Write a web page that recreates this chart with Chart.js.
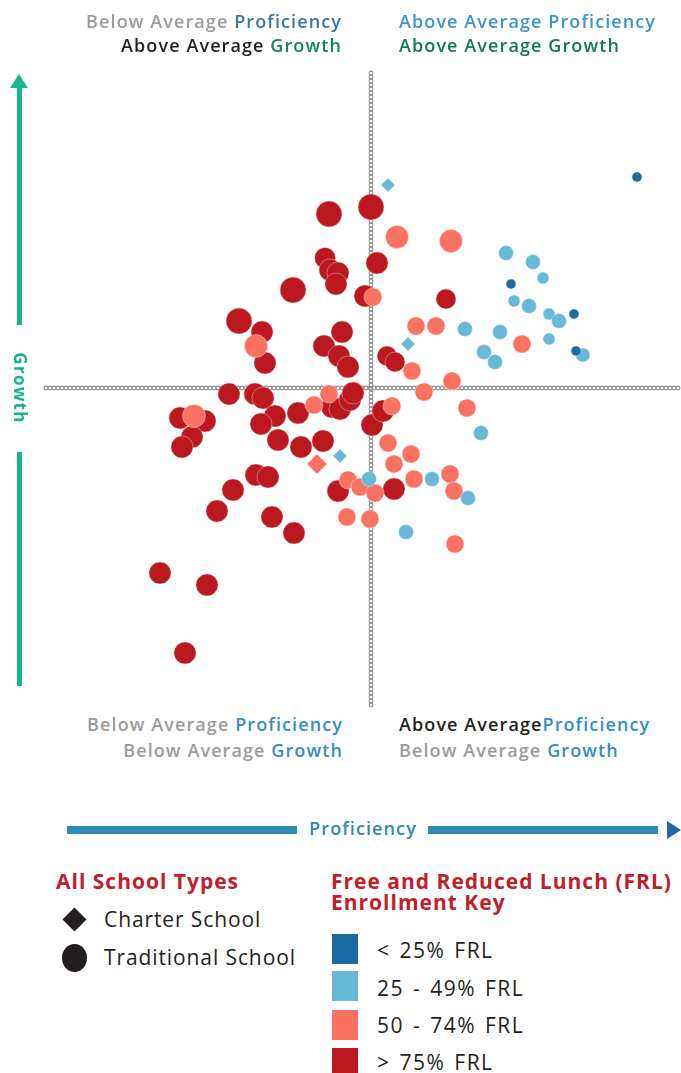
<!DOCTYPE html>
<html>
<head>
<meta charset="utf-8">
<script src="https://cdn.jsdelivr.net/npm/chart.js@4/dist/chart.umd.min.js"></script>
<style>
  body { margin: 0; width: 681px; height: 1073px; position: relative; background: #fff; font-family: 'Open Sans', sans-serif; overflow: hidden; }
  #chart { position: absolute; left: 0; top: 0; }
  .abs { position: absolute; white-space: nowrap; }
  .quad { font-size: 18px; line-height: 24px; font-weight: 600; letter-spacing: 1.1px; }
  .gray { color: #9b9b9b; }
  .blk { color: #231f20; }
  .legend-title { font-size: 21px; font-weight: 700; color: #c0202a; line-height: 21px; letter-spacing: 1px; }
  .legend-item { font-size: 21px; color: #231f20; line-height: 24px; letter-spacing: 0.9px; }
  .frl { letter-spacing: 1.5px; word-spacing: 2px; }
  .sq { position: absolute; width: 26px; height: 30px; }
</style>
</head>
<body>
<canvas id="chart" width="681" height="710"></canvas>

<div class="abs quad" style="right:339px; top:9px; text-align:right;">
  <span class="gray">Below Average</span> <span style="color:#3a77a8">Proficiency</span><br>
  <span class="blk">Above Average</span> <span style="color:#14855a">Growth</span>
</div>
<div class="abs quad" style="left:399px; top:9px;">
  <span style="color:#3a96c8">Above Average Proficiency</span><br>
  <span style="color:#0f7a55">Above Average Growth</span>
</div>
<div class="abs quad" style="right:338px; top:711px; text-align:right; line-height:26px;">
  <span class="gray">Below Average</span> <span style="color:#3290c2">Proficiency</span><br>
  <span class="gray">Below Average</span> <span style="color:#3290c2">Growth</span>
</div>
<div class="abs quad" style="left:399px; top:711px; line-height:26px;">
  <span class="blk">Above Average</span><span style="color:#3290c2">Proficiency</span><br>
  <span class="gray">Below Average</span> <span style="color:#3290c2">Growth</span>
</div>

<!-- growth arrow -->
<div class="abs" style="left:10px; top:74px; width:0; height:0; border-left:9px solid transparent; border-right:9px solid transparent; border-bottom:14px solid #17b890;"></div>
<div class="abs" style="left:17px; top:87px; width:5px; height:238px; background:#17b890;"></div>
<div class="abs" style="left:20px; top:388px; transform:translate(-50%,-50%) rotate(90deg); font-size:17px; font-weight:700; color:#17b48f; letter-spacing:1.3px;">Growth</div>
<div class="abs" style="left:17px; top:452px; width:5px; height:234px; background:#17b890;"></div>

<!-- proficiency arrow -->
<div class="abs" style="left:67px; top:826px; width:230px; height:8px; background:#2e8ab8;"></div>
<div class="abs" style="left:363px; top:828px; transform:translate(-50%,-50%); font-size:18px; font-weight:600; color:#2f8ab8; letter-spacing:1.1px;">Proficiency</div>
<div class="abs" style="left:428px; top:826px; width:230px; height:8px; background:#2e8ab8;"></div>
<div class="abs" style="left:667px; top:821px; width:0; height:0; border-top:9px solid transparent; border-bottom:9px solid transparent; border-left:14px solid #1f6aa0;"></div>

<!-- legend: school types -->
<div class="abs legend-title" style="left:56px; top:871px;">All School Types</div>
<div class="abs" style="left:66px; top:911px; width:17px; height:17px; background:#231f20; transform:rotate(45deg);"></div>
<div class="abs legend-item" style="left:104px; top:907px;">Charter School</div>
<div class="abs" style="left:62px; top:944px; width:25px; height:28px; border-radius:50%; background:#231f20;"></div>
<div class="abs legend-item" style="left:104px; top:945px;">Traditional School</div>

<!-- legend: FRL -->
<div class="abs legend-title" style="left:331px; top:871px;">Free and Reduced Lunch (FRL)<br>Enrollment Key</div>
<div class="sq" style="left:332px; top:934px; background:#1c6aa3;"></div>
<div class="abs legend-item frl" style="left:377px; top:938px;">&lt; 25% FRL</div>
<div class="sq" style="left:332px; top:971px; background:#68b9d9;"></div>
<div class="abs legend-item frl" style="left:377px; top:976px;">25 - 49% FRL</div>
<div class="sq" style="left:332px; top:1010px; background:#fb7262;"></div>
<div class="abs legend-item frl" style="left:377px; top:1013px;">50 - 74% FRL</div>
<div class="sq" style="left:332px; top:1048px; background:#bb1820;"></div>
<div class="abs legend-item frl" style="left:377px; top:1050px;">&gt; 75% FRL</div>

<script>
// Proficiency (x) and Growth (y), relative to the state average (0,0)
// enrollment drives the marker size, type: T = traditional, C = charter

// > 75% FRL
const redX = [-4.2, 0.0, 0.6, -4.6, -4.1, -3.3, -3.5, -7.8, -0.6, -13.2, -10.9, -10.6, -2.9, -4.7, -3.2, -2.3, 1.6, 2.4, 7.5,
  -14.2, -11.6, -10.8, -9.6, -11.0, -7.3, -19.1, -16.6, -17.9, -18.9, -3.9, -3.1, -2.1, -1.8, -9.3, -7.0, -4.8, 0.1, 1.2,
  -11.5, -10.3, -13.8, -15.4, -9.9, -7.7, -3.3, 2.3, -21.1, -16.4, -18.6];
const redY = [17.4, 18.1, 12.5, 13.0, 11.8, 11.5, 10.4, 9.8, 9.2, 6.7, 5.6, 2.5, 5.6, 4.2, 3.2, 2.1, 3.2, 2.6, 8.9,
  -0.6, -0.6, -1.0, -2.8, -3.6, -2.5, -3.0, -3.3, -4.9, -5.9, -1.9, -2.1, -1.2, -0.5, -5.2, -5.9, -5.3, -3.7, -2.3,
  -8.7, -8.9, -10.2, -12.3, -12.9, -14.5, -10.3, -10.1, -18.5, -19.7, -26.5];
const redEnr = [1050, 1050, 760, 690, 760, 760, 760, 1050, 760, 1050, 760, 760, 760, 760, 760, 760, 625, 625, 625,
  760, 760, 760, 760, 760, 760, 760, 760, 760, 760, 760, 760, 760, 760, 760, 760, 760, 760, 760,
  760, 760, 760, 760, 760, 760, 760, 760, 760, 760, 760];
const redType = redX.map(() => 'T');

// 50 - 74% FRL
const salmonX = [2.6, 8.0, 0.2, -11.5, 4.5, 6.5, 4.1, 15.1, 8.1, 5.3, 9.6, -17.7, -5.7, -4.2, 2.1, 1.7, 4.0, 2.3, 4.3,
  7.9, 8.3, 8.4, -2.3, -1.1, 0.4, -2.4, -0.1, -5.4];
const salmonY = [15.1, 14.7, 9.1, 4.2, 6.2, 6.2, 1.7, 4.4, 0.7, -0.4, -2.0, -2.8, -1.7, -0.6, -1.8, -5.5, -6.6, -7.6, -9.1,
  -8.6, -10.3, -15.6, -9.2, -9.9, -10.5, -12.9, -13.1, -7.6];
const salmonEnr = [830, 830, 510, 830, 510, 510, 510, 510, 510, 510, 510, 830, 510, 510, 510, 510, 510, 510, 510,
  510, 510, 510, 510, 510, 510, 510, 510, 625];
const salmonType = ['T', 'T', 'T', 'T', 'T', 'T', 'T', 'T', 'T', 'T', 'T', 'T', 'T', 'T', 'T', 'T', 'T', 'T', 'T',
  'T', 'T', 'T', 'T', 'T', 'T', 'T', 'T', 'C'];

// 25 - 49% FRL
const lightX = [13.5, 16.2, 17.2, 14.3, 15.8, 17.8, 18.8, 9.4, 12.9, 17.8, 11.3, 12.4, 21.2, 11.0, -0.2, 6.1, 9.7, 3.5,
  1.7, 3.7, -3.1];
const lightY = [13.5, 12.6, 11.0, 8.7, 8.2, 7.4, 6.7, 5.9, 5.6, 4.9, 3.6, 2.6, 3.3, -4.5, -9.1, -9.1, -11.0, -14.4,
  20.3, 4.4, -6.8];
const lightEnr = [350, 350, 225, 225, 350, 225, 350, 350, 350, 225, 350, 350, 310, 350, 350, 350, 350, 350,
  310, 310, 310];
const lightType = ['T', 'T', 'T', 'T', 'T', 'T', 'T', 'T', 'T', 'T', 'T', 'T', 'T', 'T', 'T', 'T', 'T', 'T',
  'C', 'C', 'C'];

// < 25% FRL
const blueX = [26.6, 14.0, 20.3, 20.5];
const blueY = [21.1, 10.4, 7.4, 3.7];
const blueEnr = [155, 155, 155, 155];
const blueType = ['T', 'T', 'T', 'T'];

const toPoints = (xs, ys) => xs.map((x, i) => ({ x, y: ys[i] }));
const radius = (enr) => Math.sqrt(enr) / 2.5;

const makeSet = (label, xs, ys, enr, type, color, order) => ({
	label,
	data: toPoints(xs, ys),
	backgroundColor: color,
	borderColor: 'rgba(255,255,255,0.45)',
	borderWidth: 0.8,
	pointRadius: (ctx) => radius(enr[ctx.dataIndex]),
	pointHoverRadius: (ctx) => radius(enr[ctx.dataIndex]),
	pointStyle: (ctx) => (type[ctx.dataIndex] === 'C' ? 'rectRot' : 'circle'),
	order,
});

// chain-like crosshair at the average
const crosshair = {
	id: 'crosshair',
	beforeDatasetsDraw(chart) {
		const { ctx, scales } = chart;
		const cx = scales.x.getPixelForValue(0);
		const cy = scales.y.getPixelForValue(0);
		ctx.save();
		ctx.strokeStyle = '#8e8e8e';
		ctx.lineWidth = 1.1;
		for (let y = 73; y <= 705; y += 4) {
			ctx.beginPath();
			ctx.arc(cx, y, 1.9, 0, Math.PI * 2);
			ctx.stroke();
		}
		for (let x = 46; x <= 681; x += 4) {
			ctx.beginPath();
			ctx.arc(x, cy, 1.9, 0, Math.PI * 2);
			ctx.stroke();
		}
		ctx.restore();
	},
};

new Chart(document.getElementById('chart'), {
	type: 'scatter',
	data: {
		datasets: [
			makeSet('> 75% FRL', redX, redY, redEnr, redType, '#bb1820', 4),
			makeSet('50 - 74% FRL', salmonX, salmonY, salmonEnr, salmonType, '#fb7262', 3),
			makeSet('25 - 49% FRL', lightX, lightY, lightEnr, lightType, '#68b9d9', 2),
			makeSet('< 25% FRL', blueX, blueY, blueEnr, blueType, '#1c6aa3', 1),
		],
	},
	options: {
		responsive: false,
		animation: false,
		layout: { autoPadding: false, padding: { left: 45, right: 0, top: 73, bottom: 10 } },
		plugins: { legend: { display: false }, tooltip: { enabled: false } },
		scales: {
			x: { type: 'linear', min: -32.6, max: 31, display: false },
			y: { type: 'linear', min: -31.2, max: 31.5, display: false },
		},
	},
	plugins: [crosshair],
});
</script>
</body>
</html>
